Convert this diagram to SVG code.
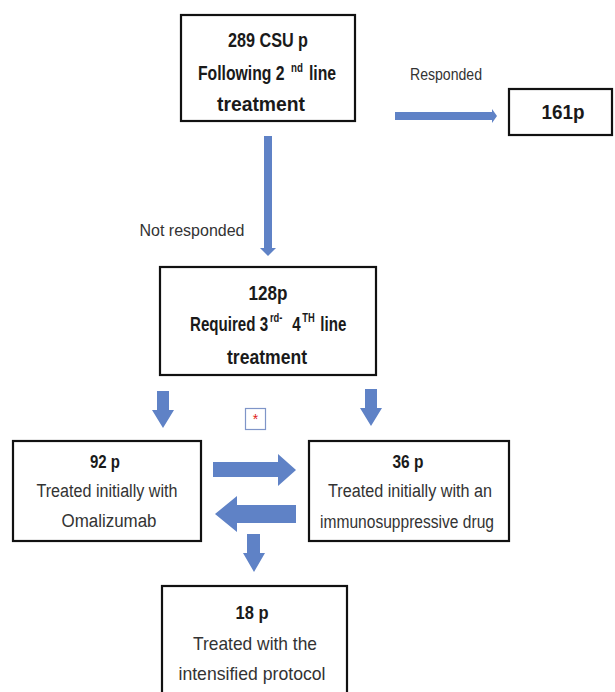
<svg xmlns="http://www.w3.org/2000/svg" width="615" height="692" viewBox="0 0 615 692">
<style>
.box{fill:#fff;stroke:#111;stroke-width:2.2}
.b{font-family:"Liberation Sans",Arial,sans-serif;font-weight:bold;fill:#1a1a1a;text-anchor:middle}
.bs{font-family:"Liberation Sans",Arial,sans-serif;font-weight:bold;fill:#1a1a1a}
.r{font-family:"Liberation Sans",Arial,sans-serif;fill:#333;text-anchor:middle}
.arr{fill:#5F82C6}
</style>
<rect width="615" height="692" fill="#fff"/>
<g id="connectors">
<polygon class="arr" points="395,112 492,112 492,109 497,116 492,123 492,120 395,120"/>
<polygon class="arr" points="264,136 272,136 272,248 276,248 268,256 260,248 264,248"/>
<polygon class="arr" points="157,391 169,391 169,410 174,410 163,428 152,410 157,410"/>
<polygon class="arr" points="365,389 377,389 377,408 382,408 371,426 360,408 365,408"/>
<polygon class="arr" points="213,462 278,462 278,454 296,470 278,486 278,477 213,477"/>
<polygon class="arr" points="296,505 237,505 237,496 215,514 237,532 237,523 296,523"/>
<polygon class="arr" points="247,534 260,534 260,553 265,553 254,572 243,553 247,553"/>
<text class="r" x="446" y="80" font-size="16" textLength="72" lengthAdjust="spacingAndGlyphs">Responded</text>
<text class="r" x="192" y="236" font-size="16" textLength="105" lengthAdjust="spacingAndGlyphs">Not responded</text>
</g>
<g id="node-289">
<rect class="box" x="181" y="15" width="174" height="106"/>
<text class="b" x="268" y="47" font-size="21" textLength="80" lengthAdjust="spacingAndGlyphs">289 CSU p</text>
<g transform="translate(198,80) scale(0.75,1)">
<text class="bs" x="0" y="0" font-size="21">Following 2</text>
<text class="bs" x="124" y="-8" font-size="13">nd</text>
<text class="bs" x="148" y="0" font-size="21">line</text>
</g>
<text class="b" x="261" y="111" font-size="21" textLength="88" lengthAdjust="spacingAndGlyphs">treatment</text>
</g>
<g id="node-161">
<rect class="box" x="509" y="89" width="103" height="46"/>
<text class="b" x="563" y="119" font-size="20" textLength="43" lengthAdjust="spacingAndGlyphs">161p</text>
</g>
<g id="node-128">
<rect class="box" x="160" y="267" width="216" height="108"/>
<text class="b" x="268" y="300" font-size="21" textLength="39" lengthAdjust="spacingAndGlyphs">128p</text>
<g transform="translate(190,331) scale(0.72,1)">
<text class="bs" x="0" y="0" font-size="21">Required 3</text>
<text class="bs" x="111" y="-9" font-size="13">rd-</text>
<text class="bs" x="142" y="0" font-size="21">4</text>
<text class="bs" x="156" y="-9" font-size="13">TH</text>
<text class="bs" x="181" y="0" font-size="21">line</text>
</g>
<text class="b" x="267" y="364" font-size="21" textLength="80" lengthAdjust="spacingAndGlyphs">treatment</text>
</g>
<g id="note">
<rect x="245.5" y="408.5" width="20" height="21" fill="#fff" stroke="#7F95C8" stroke-width="1.2"/>
<text x="255.5" y="424" font-family="Liberation Sans,Arial,sans-serif" font-size="14" fill="#e02020" text-anchor="middle">*</text>
</g>
<g id="node-92">
<rect class="box" x="13" y="441" width="188" height="100"/>
<text class="b" x="105" y="468" font-size="18" textLength="30" lengthAdjust="spacingAndGlyphs">92 p</text>
<text class="r" x="107" y="497" font-size="18" textLength="141" lengthAdjust="spacingAndGlyphs">Treated initially with</text>
<text class="r" x="109" y="527" font-size="18" textLength="95" lengthAdjust="spacingAndGlyphs">Omalizumab</text>
</g>
<g id="node-36">
<rect class="box" x="309" y="441" width="200" height="100"/>
<text class="b" x="408" y="468" font-size="18" textLength="31" lengthAdjust="spacingAndGlyphs">36 p</text>
<text class="r" x="410" y="497" font-size="18" textLength="164" lengthAdjust="spacingAndGlyphs">Treated initially with an</text>
<text class="r" x="407" y="528" font-size="18" textLength="174" lengthAdjust="spacingAndGlyphs">immunosuppressive drug</text>
</g>
<g id="node-18">
<rect class="box" x="162" y="586" width="185" height="120"/>
<text class="b" x="252" y="619" font-size="19" textLength="33" lengthAdjust="spacingAndGlyphs">18 p</text>
<text class="r" x="255" y="650" font-size="19" textLength="124" lengthAdjust="spacingAndGlyphs">Treated with the</text>
<text class="r" x="252" y="680" font-size="19" textLength="147" lengthAdjust="spacingAndGlyphs">intensified protocol</text>
</g>
</svg>
